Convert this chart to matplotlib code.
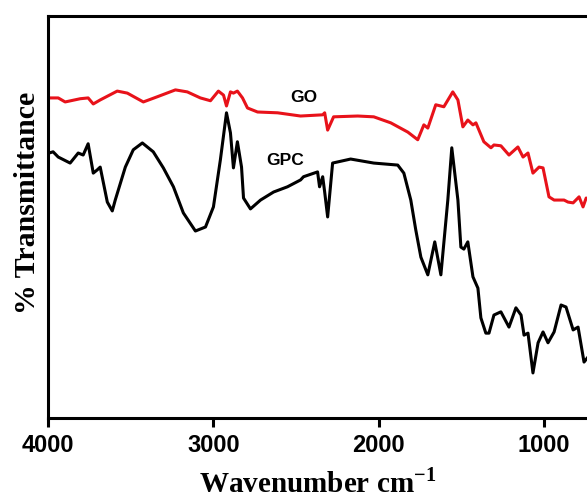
# -*- coding: utf-8 -*-

"""
FTIR spectra of GO and GPC
"""

import matplotlib
matplotlib.use("Agg")
import matplotlib.pyplot as plt
import numpy as np

# GO spectrum (wavenumber, cm-1 / transmittance, a.u.)
go_wn = [3994, 3939, 3897, 3806, 3758, 3727, 3685, 3582, 3521, 3424, 3339, 3230, 3158,
         3079, 3018, 2970, 2939, 2921, 2897, 2879, 2855, 2824, 2794, 2733, 2612, 2473,
         2339, 2327, 2309, 2273, 2127, 2030, 1927, 1824, 1764, 1727, 1703, 1655, 1606,
         1552, 1521, 1491, 1461, 1430, 1412, 1364, 1321, 1303, 1261, 1212, 1158, 1127,
         1097, 1067, 1030, 1006, 970, 939, 879, 855, 824, 788, 764, 745, 715]
go_t = [79.6, 79.6, 78.6, 79.4, 79.6, 78.1, 79.1, 81.3, 80.8, 78.6, 79.9, 81.6, 81.1,
        79.6, 78.9, 81.3, 80.3, 77.6, 81.1, 80.8, 81.3, 79.6, 77.1, 76.1, 75.9, 75.1,
        75.4, 75.9, 71.6, 74.9, 75.1, 74.9, 73.4, 71.1, 69.2, 72.9, 72.1, 77.9, 77.4,
        81.1, 79.1, 72.4, 74.1, 72.9, 73.4, 68.7, 67.2, 67.9, 67.7, 65.4, 67.4, 64.9,
        65.9, 60.9, 62.4, 62.2, 55.0, 54.2, 54.2, 53.7, 53.5, 55.0, 52.5, 54.7, 54.2]

# GPC spectrum
gpc_wn = [3994, 3970, 3939, 3867, 3818, 3788, 3758, 3727, 3703, 3685, 3642, 3612, 3594,
          3533, 3485, 3430, 3364, 3303, 3242, 3182, 3109, 3048, 3000, 2958, 2921, 2897,
          2879, 2855, 2830, 2818, 2776, 2715, 2636, 2552, 2473, 2455, 2370, 2358, 2339,
          2327, 2309, 2279, 2170, 2030, 1885, 1848, 1806, 1776, 1745, 1703, 1661, 1624,
          1582, 1558, 1521, 1503, 1485, 1461, 1430, 1400, 1382, 1352, 1333, 1303, 1261,
          1212, 1170, 1139, 1121, 1097, 1067, 1036, 1006, 976, 939, 897, 867, 824, 794,
          758, 733]
gpc_t = [65.9, 66.2, 64.9, 63.4, 65.9, 65.4, 68.2, 60.9, 61.7, 62.4, 53.7, 51.5, 54.2,
         62.4, 66.7, 68.4, 66.2, 62.2, 57.5, 51.0, 46.5, 47.5, 52.5, 64.2, 75.9, 70.9,
         62.2, 68.7, 62.4, 54.7, 52.0, 54.2, 56.2, 57.5, 59.2, 60.0, 61.2, 57.5, 60.0,
         56.2, 50.0, 63.4, 64.4, 63.4, 62.9, 60.9, 54.2, 46.8, 40.0, 35.6, 43.8, 35.6,
         54.2, 67.2, 54.2, 42.5, 42.0, 43.8, 35.1, 32.3, 24.9, 21.1, 21.1, 25.6, 26.4,
         22.6, 27.4, 25.6, 20.6, 21.1, 11.2, 18.7, 21.4, 18.7, 21.4, 28.1, 27.6, 21.9,
         22.6, 13.9, 15.2]

x_ticks = [4000, 3000, 2000, 1000]

plt.rcParams["mathtext.fontset"] = "custom"
plt.rcParams["mathtext.rm"] = "Liberation Serif:bold"
plt.rcParams["mathtext.bf"] = "Liberation Serif:bold"

fig = plt.figure(figsize=(5.87, 4.97), dpi=100)
ax = fig.add_axes([0.082, 0.159, 0.918, 0.809])

ax.plot(np.array(go_wn), np.array(go_t), color="#e8121a", lw=2.2)
ax.plot(np.array(gpc_wn), np.array(gpc_t), color="black", lw=2.2)

ax.text(2455, 79.6, "GO", fontsize=12.5, fontweight="bold", family="Liberation Sans",
        ha="center", va="center")
ax.text(2565, 64.0, "GPC", fontsize=12.5, fontweight="bold", family="Liberation Sans",
        ha="center", va="center")

ax.set_xlim(4000, 740)
ax.set_ylim(0, 100)
ax.set_xticks(x_ticks)
ax.set_yticks([])
ax.tick_params(axis="x", direction="out", length=6.5, width=2.2, pad=5)
for lbl in ax.get_xticklabels():
    lbl.set_fontsize(17)
    lbl.set_fontweight("bold")
    lbl.set_family("Liberation Sans")

for side in ("left", "top", "bottom"):
    ax.spines[side].set_linewidth(2.2)
ax.spines["right"].set_visible(False)

ax.set_xlabel("Wavenumber cm$^{-1}$", fontsize=21, fontweight="bold",
              family="Liberation Serif", labelpad=8)
ax.set_ylabel("% Transmittance", fontsize=21.5, fontweight="bold",
              family="Liberation Serif")
ax.yaxis.set_label_coords(-0.013, 0.535)

fig.savefig("out.png", dpi=100)
